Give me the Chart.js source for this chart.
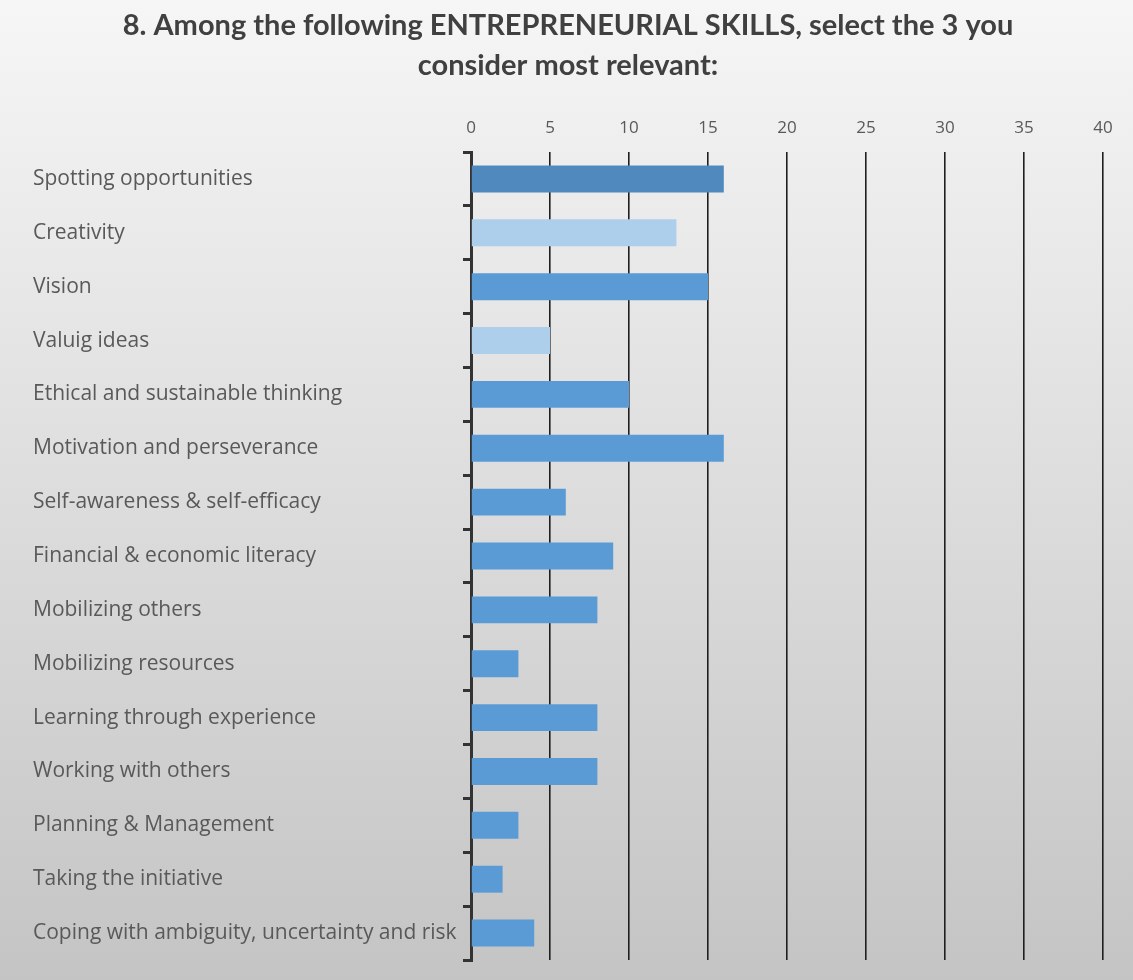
<!DOCTYPE html>
<html>
<head>
<meta charset="utf-8">
<script src="https://cdn.jsdelivr.net/npm/chart.js@4/dist/chart.umd.min.js"></script>
<style>
  html, body { margin: 0; padding: 0; background: #fff; }
  #wrap { width: 1133px; height: 980px; position: relative; }
</style>
</head>
<body>
<div id="wrap"><canvas id="chart" width="1133" height="980"></canvas></div>
<script>
"use strict";

// survey answers, top to bottom as in the picture
const skills = [
  "Spotting opportunities",
  "Creativity",
  "Vision",
  "Valuig ideas",
  "Ethical and sustainable thinking",
  "Motivation and perseverance",
  "Self-awareness & self-efficacy",
  "Financial & economic literacy",
  "Mobilizing others",
  "Mobilizing resources",
  "Learning through experience",
  "Working with others",
  "Planning & Management",
  "Taking the initiative",
  "Coping with ambiguity, uncertainty and risk"
];
const votes = [16, 13, 15, 5, 10, 16, 6, 9, 8, 3, 8, 8, 3, 2, 4];
const axisMax = 40;
const axisStep = 5;
const titleLines = [
  "8. Among the following ENTREPRENEURIAL SKILLS, select the 3 you",
  "consider most relevant:"
];

// bar colours (first one darker, two lighter ones)
const barColors = skills.map((s, i) => {
  if (i === 0) return "#4f89bd";
  if (i === 1 || i === 3) return "#aecfeb";
  return "#5b9bd5";
});

// grey gradient background like the original
const bgPlugin = {
  id: "bg",
  beforeDraw(chart) {
    const ctx = chart.ctx;
    const g = ctx.createLinearGradient(0, 0, 0, chart.height);
    g.addColorStop(0, "#f6f6f6");
    g.addColorStop(1, "#c4c4c4");
    ctx.save();
    ctx.fillStyle = g;
    ctx.fillRect(0, 0, chart.width, chart.height);
    ctx.restore();
  }
};

let ctx = document.getElementById("chart").getContext("2d");
let myChart = new Chart(ctx, {
  type: "bar",
  data: {
    labels: skills,
    datasets: [{
      data: votes,
      backgroundColor: barColors,
      borderWidth: 0,
      barPercentage: 0.5,
      categoryPercentage: 1
    }]
  },
  options: {
    indexAxis: "y",
    responsive: false,
    animation: false,
    layout: { padding: { left: 33, right: 30, bottom: 20, top: 0 } },
    plugins: {
      legend: { display: false },
      tooltip: { enabled: false },
      title: {
        display: true,
        text: titleLines,
        color: "#404040",
        font: { family: "Lato", size: 29, weight: "bold", lineHeight: "40px" },
        padding: { top: 6, bottom: 9 }
      }
    },
    scales: {
      x: {
        position: "top",
        min: 0,
        max: axisMax,
        ticks: {
          stepSize: axisStep,
          color: "#595959",
          padding: 14,
          font: { family: "Open Sans", size: 17 }
        },
        grid: { color: "#1f1f1f", lineWidth: 1.6, drawTicks: false },
        border: { display: false },
        afterFit(scale) { scale.height = 57; }
      },
      y: {
        ticks: {
          crossAlign: "far",
          color: "#595959",
          padding: 6,
          font: { family: "Open Sans", size: 21 }
        },
        grid: {
          drawOnChartArea: false,
          drawTicks: true,
          tickLength: 8,
          color: "#333333",
          lineWidth: 3
        },
        border: { display: true, color: "#333333", width: 3 },
        afterFit(scale) { scale.width = 438; }
      }
    }
  },
  plugins: [bgPlugin]
});
</script>
</body>
</html>
